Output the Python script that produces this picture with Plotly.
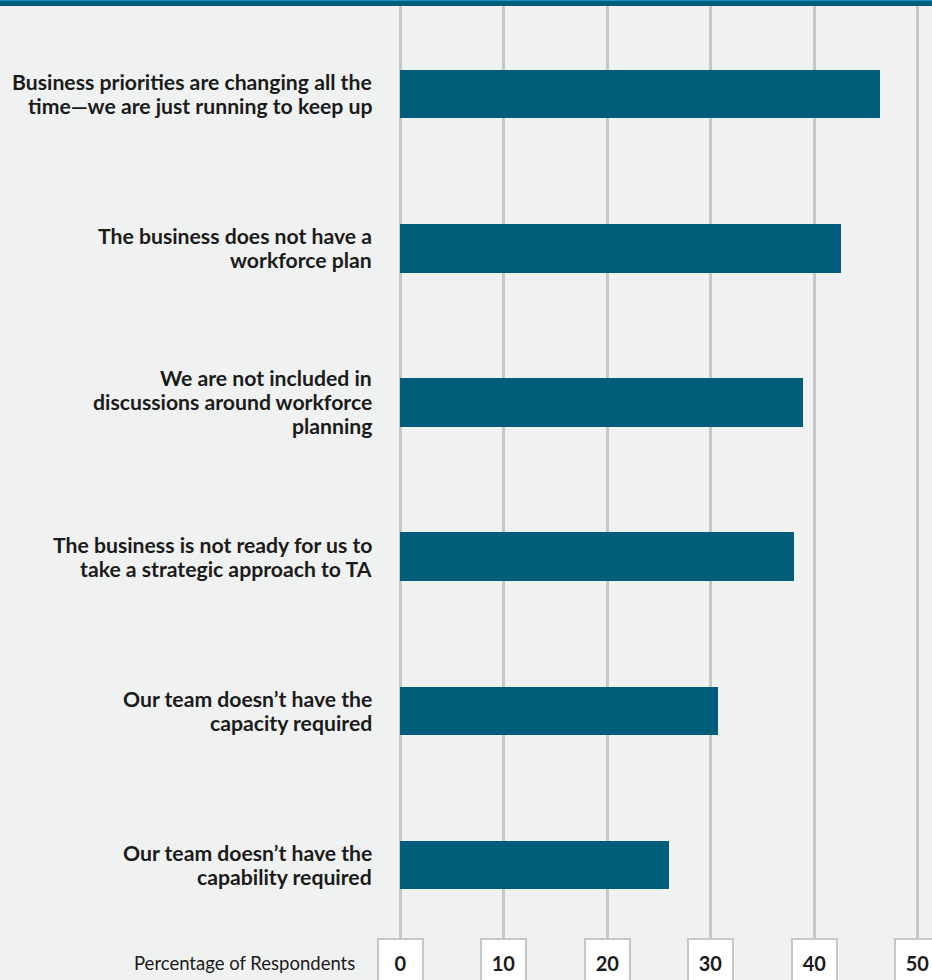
import plotly.graph_objects as go

# Survey responses: obstacles to strategic talent acquisition
categories = [
    "Business priorities are changing all the<br>time\u2014we are just running to keep up",
    "The business does not have a<br>workforce plan",
    "We are not included in<br>discussions around workforce<br>planning",
    "The business is not ready for us to<br>take a strategic approach to TA",
    "Our team doesn\u2019t have the<br>capacity required",
    "Our team doesn\u2019t have the<br>capability required",
]
percentages = [46.4, 42.6, 38.9, 38.1, 30.7, 26.0]
tick_values = [0, 10, 20, 30, 40, 50]
axis_label = "Percentage of Respondents"

BG = "#f0f2f1"
BAR = "#005e7a"
GRID = "#c6c8c8"
TEXT = "#1b1b1b"
FONT = "Lato"
LINE_GAP = 24  # px between lines of a category label

fig = go.Figure(
    go.Bar(
        x=percentages,
        y=categories,
        orientation="h",
        width=0.315,
        marker=dict(color=BAR, line=dict(width=0)),
        hoverinfo="skip",
    )
)

annotations = []

# Category labels, one annotation per line for a tighter line height
for cat in categories:
    lines = cat.split("<br>")
    n = len(lines)
    for j, line in enumerate(lines):
        annotations.append(
            dict(
                x=0, xref="paper", y=cat, yref="y",
                xanchor="right", yanchor="middle",
                xshift=-6, yshift=((n - 1) / 2 - j) * LINE_GAP,
                text=f"<b>{line}</b>",
                showarrow=False,
                font=dict(family=FONT, size=21.2, color=TEXT),
            )
        )

# Boxed tick labels under each gridline
for v in tick_values:
    annotations.append(
        dict(
            x=v, xref="x", y=0, yref="paper",
            xanchor="center", yanchor="top",
            text=f"<b>{v}</b>",
            showarrow=False,
            font=dict(family=FONT, size=20, color=TEXT),
            bgcolor="#ffffff",
            bordercolor=GRID,
            borderwidth=2,
            borderpad=0,
            width=43,
            height=46,
            align="center",
            valign="middle",
        )
    )
annotations.append(
    dict(
        x=-0.0453, xref="paper", y=0, yref="paper",
        xanchor="right", yanchor="middle", xshift=2, yshift=-25,
        text=axis_label, showarrow=False,
        font=dict(family=FONT, size=18.5, color=TEXT),
    )
)

# Header stripe above the plot area
shapes = [
    dict(type="rect", xref="paper", yref="paper",
         x0=-1, x1=2, y0=1, y1=1 + 6 / 932,
         fillcolor=BAR, line=dict(width=0), layer="above"),
    dict(type="rect", xref="paper", yref="paper",
         x0=-1, x1=2, y0=1 + 5 / 932, y1=1 + 6.5 / 932,
         fillcolor="#1990c6", line=dict(width=0), layer="above"),
]

fig.update_layout(
    width=932,
    height=980,
    margin=dict(l=380, r=0, t=6, b=42, pad=0),
    paper_bgcolor=BG,
    plot_bgcolor=BG,
    showlegend=False,
    bargap=0,
    annotations=annotations,
    shapes=shapes,
    xaxis=dict(
        range=[-1.932, 51.40],
        tickvals=tick_values,
        showticklabels=False,
        showgrid=True,
        gridcolor=GRID,
        gridwidth=2.5,
        zeroline=False,
        showline=False,
        fixedrange=True,
    ),
    yaxis=dict(
        type="category",
        range=[5.473, -0.571],
        showgrid=False,
        zeroline=False,
        showline=False,
        showticklabels=False,
        ticks="",
        fixedrange=True,
    ),
)

fig.write_html("out.html")
